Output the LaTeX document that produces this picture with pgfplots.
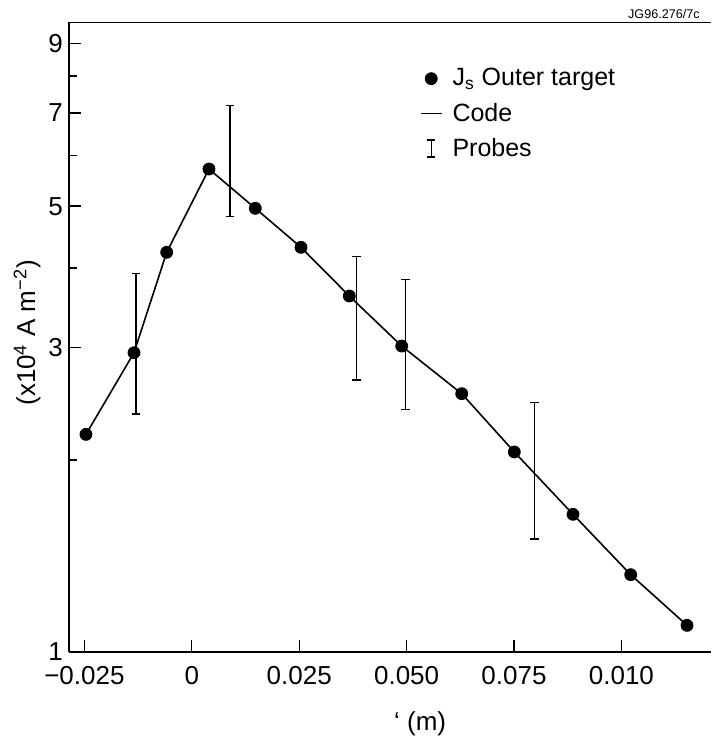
\documentclass[border=0pt]{standalone}
\usepackage{pgfplots}
\pgfplotsset{compat=1.18}
\usepackage{fontspec}
\setmainfont{Liberation Sans}
\begin{document}
\begin{tikzpicture}
\useasboundingbox (-34.5pt,-45pt) rectangle (321pt,326pt);
\begin{axis}[
  at={(0pt,0pt)}, anchor=south west,
  scale only axis, width=321pt, height=314.75pt,
  ymode=log, xmin=-0.02858, xmax=0.12085, ymin=1, ymax=9.705,
  axis x line=box, axis y line=left,
  axis line style={-, line width=0.8pt},
  xtick pos=bottom, ytick pos=left,
  xtick={-0.025,0,0.025,0.05,0.075,0.1},
  xticklabels={−0.025,0,0.025,0.050,0.075,0.010},
  ytick={1,3,5,7,9}, yticklabels={1,3,5,7,9},
  minor ytick={2,4,6,8},
  tick align=inside,
  major tick length=6pt, minor tick length=4pt,
  every tick/.style={black, line width=0.7pt},
  tick label style={font=\fontsize{13}{15}\selectfont},
  xticklabel style={yshift=-3.5pt},
  yticklabel style={xshift=0.5pt},
  ylabel={(x10\textsuperscript{4} A m\textsuperscript{−2})},
  ylabel style={font=\fontsize{13}{15}\selectfont, at={(axis description cs:-0.0654,0.507)}, anchor=center},
  xlabel={‘ (m)},
  xlabel style={font=\fontsize{13}{15}\selectfont, at={(axis description cs:0.547,-0.114)}, anchor=center},
  legend cell align=left,
  legend style={draw=none, fill=none, at={(axis description cs:0.546,0.934)}, anchor=north west,
    font=\fontsize{12.5}{15}\selectfont, row sep=3pt, inner sep=0pt,
    nodes={inner xsep=5pt}},
]
\addlegendimage{legend image code/.code={\fill[black] (5.25pt,0pt) circle (3pt);}}
\addlegendentry{J\textsubscript{s} Outer target}
\addlegendimage{legend image code/.code={\draw[black, line width=0.8pt] (0pt,0pt) -- (10.5pt,0pt);}}
\addlegendentry{Code}
\addlegendimage{legend image code/.code={\draw[black, line width=0.6pt] (5.25pt,-4.25pt) -- (5.25pt,4.25pt) (3.25pt,-4.25pt) -- (7.25pt,-4.25pt) (3.25pt,4.25pt) -- (7.25pt,4.25pt);}}
\addlegendentry{Probes}

% Code line
\addplot[black, line width=0.8pt, no marks, forget plot] coordinates {
(-0.02463,2.194) (-0.01345,2.946) (-0.00584,4.233) (0.00400,5.718) (0.01478,4.962)
(0.02542,4.310) (0.03666,3.616) (0.04886,3.018) (0.06283,2.541) (0.07507,2.059)
(0.08873,1.644) (0.10216,1.322) (0.11527,1.101)};
% Js outer target
\addplot[black, only marks, mark=*, mark size=3pt, forget plot] coordinates {
(-0.02463,2.194) (-0.01345,2.946) (-0.00584,4.233) (0.00400,5.718) (0.01478,4.962)
(0.02542,4.310) (0.03666,3.616) (0.04886,3.018) (0.06283,2.541) (0.07507,2.059)
(0.08873,1.644) (0.10216,1.322) (0.11527,1.101)};
% Probes
\addplot[black, line width=0.65pt, mark=-, mark size=2.2pt, mark options={line width=0.65pt}, forget plot] coordinates {(-0.01299,2.361) (-0.01299,3.924)};
\addplot[black, line width=0.65pt, mark=-, mark size=2.2pt, mark options={line width=0.65pt}, forget plot] coordinates {(0.00889,4.814) (0.00889,7.19)};
\addplot[black, line width=0.65pt, mark=-, mark size=2.2pt, mark options={line width=0.65pt}, forget plot] coordinates {(0.03838,2.670) (0.03838,4.166)};
\addplot[black, line width=0.65pt, mark=-, mark size=2.2pt, mark options={line width=0.65pt}, forget plot] coordinates {(0.04979,2.402) (0.04979,3.840)};
\addplot[black, line width=0.65pt, mark=-, mark size=2.2pt, mark options={line width=0.65pt}, forget plot] coordinates {(0.07972,1.504) (0.07972,2.463)};
\end{axis}
\node[anchor=base east, font=\fontsize{6.3}{7}\selectfont, inner sep=0pt] at (315.5pt,316.5pt) {JG96.276/7c};
\end{tikzpicture}
\end{document}
